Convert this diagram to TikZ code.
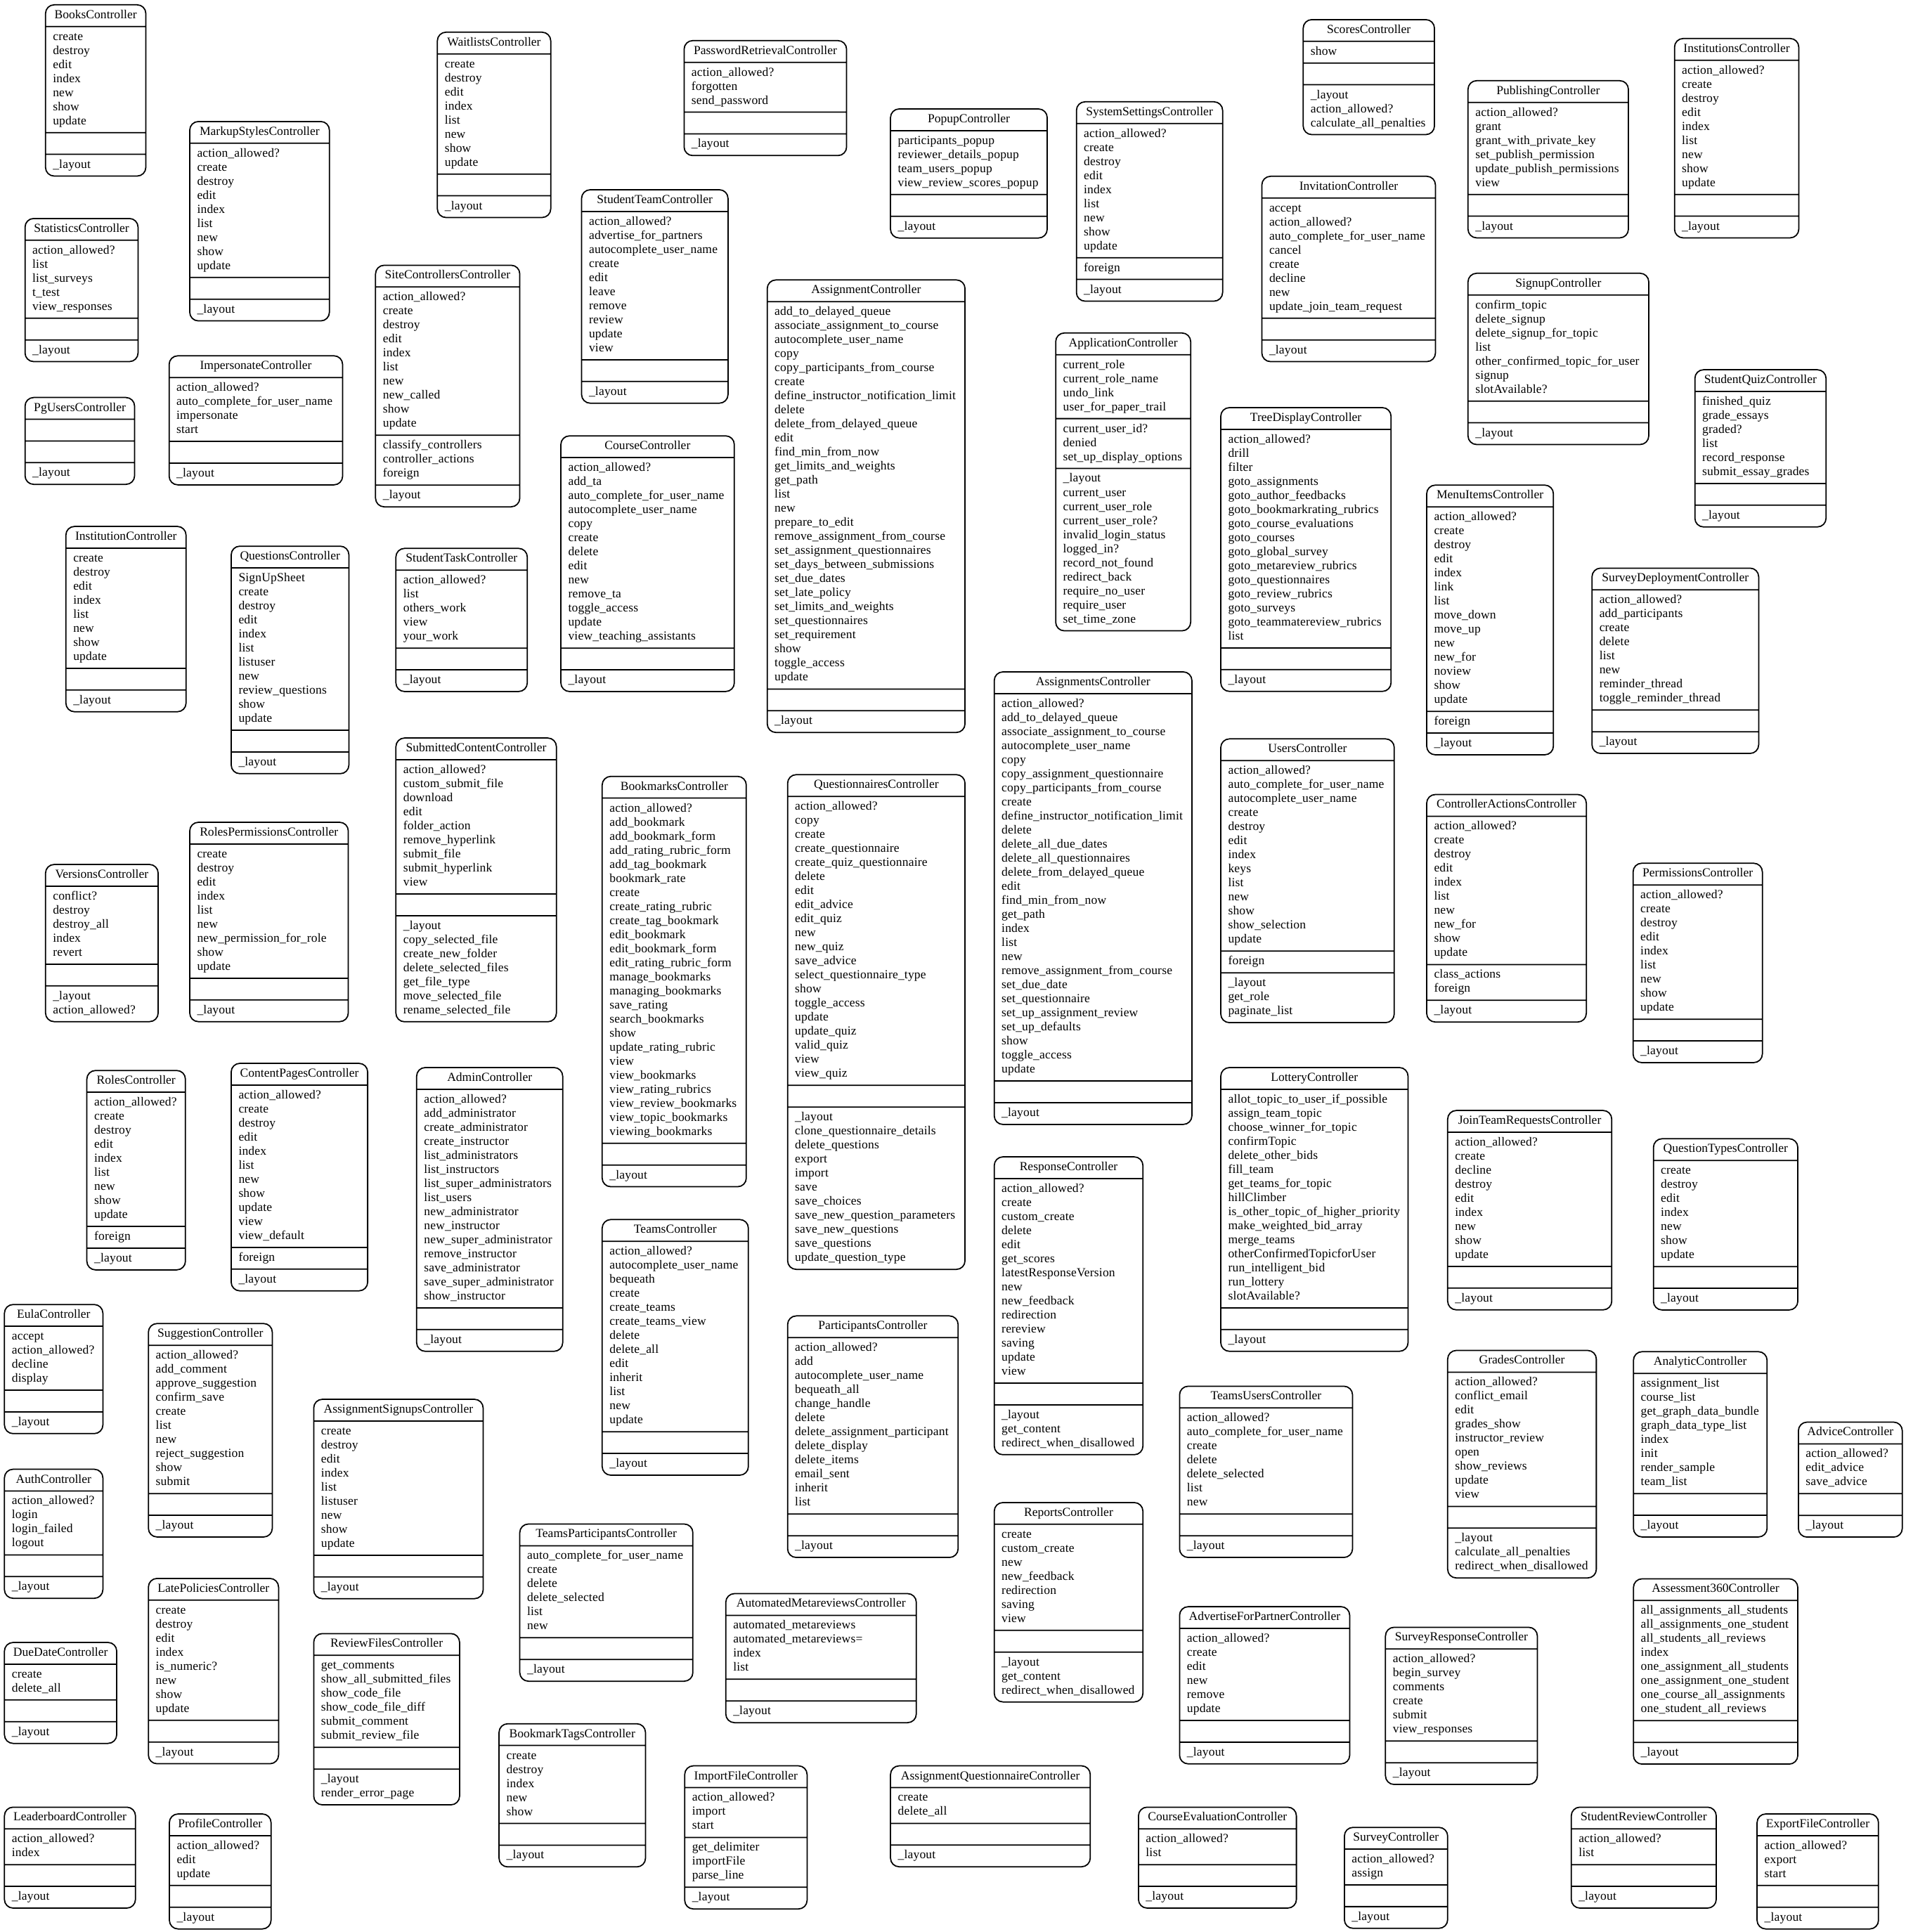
\documentclass[tikz,border=0pt]{standalone}
\usepackage{fontspec}
\setmainfont{Liberation Serif}
\usetikzlibrary{shapes.multipart}
\hyphenpenalty=10000
\exhyphenpenalty=10000
\newcommand{\ctrlfont}{\fontsize{10}{11.4}\selectfont}
\newcommand{\ttl}[1]{\hspace*{\fill}\strut#1\hspace*{\fill}\strut}
\newcommand{\lst}[1]{\addfontfeatures{LetterSpace=1}\strut#1\strut}
\begin{document}
\begin{tikzpicture}[x=1pt, y=-1pt,
    ctrl/.style={rectangle split, rectangle split parts=4, draw, line width=1pt,
      rounded corners=7pt, anchor=north west, inner xsep=6pt, inner ysep=2.6pt,
      font=\ctrlfont, align=left, text width=#1pt}]
    \useasboundingbox (0,0) rectangle (1544.5,1566);
    % first band
    \node[ctrl=69.3] (books) at (36.4,3.4) {\ttl{BooksController}
        \nodepart{two}\lst{create\\destroy\\edit\\index\\new\\show\\update}
        \nodepart{three}\lst{}\nodepart{four}\lst{\_layout}};
    \node[ctrl=101.2] (markupstyles) at (153.3,98) {\ttl{MarkupStylesController}
        \nodepart{two}\lst{action\_allowed?\\create\\destroy\\edit\\index\\list\\new\\show\\update}
        \nodepart{three}\lst{}\nodepart{four}\lst{\_layout}};
    \node[ctrl=79.6] (statistics) at (19.8,176.6) {\ttl{StatisticsController}
        \nodepart{two}\lst{action\_allowed?\\list\\list\_surveys\\t\_test\\view\_responses}
        \nodepart{three}\lst{}\nodepart{four}\lst{\_layout}};
    \node[ctrl=76.8] (pgusers) at (19.8,321.7) {\ttl{PgUsersController}
        \nodepart{two}\lst{}
        \nodepart{three}\lst{}\nodepart{four}\lst{\_layout}};
    \node[ctrl=128.6] (impersonate) at (136.6,287.9) {\ttl{ImpersonateController}
        \nodepart{two}\lst{action\_allowed?\\auto\_complete\_for\_user\_name\\impersonate\\start}
        \nodepart{three}\lst{}\nodepart{four}\lst{\_layout}};
    \node[ctrl=79.9] (waitlists) at (354,25.6) {\ttl{WaitlistsController}
        \nodepart{two}\lst{create\\destroy\\edit\\index\\list\\new\\show\\update}
        \nodepart{three}\lst{}\nodepart{four}\lst{\_layout}};
    \node[ctrl=104.9] (sitecontrollers) at (303.9,214.5) {\ttl{SiteControllersController}
        \nodepart{two}\lst{action\_allowed?\\create\\destroy\\edit\\index\\list\\new\\new\_called\\show\\update}
        \nodepart{three}\lst{classify\_controllers\\controller\_actions\\foreign}\nodepart{four}\lst{\_layout}};
    \node[ctrl=85.4] (institution) at (52.9,426.2) {\ttl{InstitutionController}
        \nodepart{two}\lst{create\\destroy\\edit\\index\\list\\new\\show\\update}
        \nodepart{three}\lst{}\nodepart{four}\lst{\_layout}};
    \node[ctrl=83.4] (questions) at (186.9,442.2) {\ttl{QuestionsController}
        \nodepart{two}\lst{SignUpSheet\\create\\destroy\\edit\\index\\list\\listuser\\new\\review\_questions\\show\\update}
        \nodepart{three}\lst{}\nodepart{four}\lst{\_layout}};
    \node[ctrl=94.5] (studenttask) at (320.4,444) {\ttl{StudentTaskController}
        \nodepart{two}\lst{action\_allowed?\\list\\others\_work\\view\\your\_work}
        \nodepart{three}\lst{}\nodepart{four}\lst{\_layout}};
    \node[ctrl=119.7] (passwordretrieval) at (554,32.4) {\ttl{PasswordRetrievalController}
        \nodepart{two}\lst{action\_allowed?\\forgotten\\send\_password}
        \nodepart{three}\lst{}\nodepart{four}\lst{\_layout}};
    \node[ctrl=106.7] (studentteam) at (470.9,153.3) {\ttl{StudentTeamController}
        \nodepart{two}\lst{action\_allowed?\\advertise\_for\_partners\\autocomplete\_user\_name\\create\\edit\\leave\\remove\\review\\update\\view}
        \nodepart{three}\lst{}\nodepart{four}\lst{\_layout}};
    \node[ctrl=128.6] (course) at (454.1,352.8) {\ttl{CourseController}
        \nodepart{two}\lst{action\_allowed?\\add\_ta\\auto\_complete\_for\_user\_name\\autocomplete\_user\_name\\copy\\create\\delete\\edit\\new\\remove\_ta\\toggle\_access\\update\\view\_teaching\_assistants}
        \nodepart{three}\lst{}\nodepart{four}\lst{\_layout}};
    \node[ctrl=148.3] (assignment) at (621.4,226.4) {\ttl{AssignmentController}
        \nodepart{two}\lst{add\_to\_delayed\_queue\\associate\_assignment\_to\_course\\autocomplete\_user\_name\\copy\\copy\_participants\_from\_course\\create\\define\_instructor\_notification\_limit\\delete\\delete\_from\_delayed\_queue\\edit\\find\_min\_from\_now\\get\_limits\_and\_weights\\get\_path\\list\\new\\prepare\_to\_edit\\remove\_assignment\_from\_course\\set\_assignment\_questionnaires\\set\_days\_between\_submissions\\set\_due\_dates\\set\_late\_policy\\set\_limits\_and\_weights\\set\_questionnaires\\set\_requirement\\show\\toggle\_access\\update}
        \nodepart{three}\lst{}\nodepart{four}\lst{\_layout}};
    \node[ctrl=115] (popup) at (721.3,87.8) {\ttl{PopupController}
        \nodepart{two}\lst{participants\_popup\\reviewer\_details\_popup\\team\_users\_popup\\view\_review\_scores\_popup}
        \nodepart{three}\lst{}\nodepart{four}\lst{\_layout}};
    \node[ctrl=106.5] (systemsettings) at (872,82) {\ttl{SystemSettingsController}
        \nodepart{two}\lst{action\_allowed?\\create\\destroy\\edit\\index\\list\\new\\show\\update}
        \nodepart{three}\lst{foreign}\nodepart{four}\lst{\_layout}};
    \node[ctrl=94.4] (scores) at (1055.8,15.4) {\ttl{ScoresController}
        \nodepart{two}\lst{show}
        \nodepart{three}\lst{}\nodepart{four}\lst{\_layout\\action\_allowed?\\calculate\_all\_penalties}};
    \node[ctrl=128.7] (invitation) at (1022.3,142.4) {\ttl{InvitationController}
        \nodepart{two}\lst{accept\\action\_allowed?\\auto\_complete\_for\_user\_name\\cancel\\create\\decline\\new\\update\_join\_team\_request}
        \nodepart{three}\lst{}\nodepart{four}\lst{\_layout}};
    \node[ctrl=97.4] (application) at (855.2,269.4) {\ttl{ApplicationController}
        \nodepart{two}\lst{current\_role\\current\_role\_name\\undo\_link\\user\_for\_paper\_trail}
        \nodepart{three}\lst{current\_user\_id?\\denied\\set\_up\_display\_options}
        \nodepart{four}\lst{\_layout\\current\_user\\current\_user\_role\\current\_user\_role?\\invalid\_login\_status\\logged\_in?\\record\_not\_found\\redirect\_back\\require\_no\_user\\require\_user\\set\_time\_zone}};
    \node[ctrl=126] (treedisplay) at (989,329.9) {\ttl{TreeDisplayController}
        \nodepart{two}\lst{action\_allowed?\\drill\\filter\\goto\_assignments\\goto\_author\_feedbacks\\goto\_bookmarkrating\_rubrics\\goto\_course\_evaluations\\goto\_courses\\goto\_global\_survey\\goto\_metareview\_rubrics\\goto\_questionnaires\\goto\_review\_rubrics\\goto\_surveys\\goto\_teammatereview\_rubrics\\list}
        \nodepart{three}\lst{}\nodepart{four}\lst{\_layout}};
    \node[ctrl=118] (publishing) at (1189.4,64.9) {\ttl{PublishingController}
        \nodepart{two}\lst{action\_allowed?\\grant\\grant\_with\_private\_key\\set\_publish\_permission\\update\_publish\_permissions\\view}
        \nodepart{three}\lst{}\nodepart{four}\lst{\_layout}};
    \node[ctrl=88.7] (institutions) at (1356.8,30.7) {\ttl{InstitutionsController}
        \nodepart{two}\lst{action\_allowed?\\create\\destroy\\edit\\index\\list\\new\\show\\update}
        \nodepart{three}\lst{}\nodepart{four}\lst{\_layout}};
    \node[ctrl=134.5] (signup) at (1189.4,221) {\ttl{SignupController}
        \nodepart{two}\lst{confirm\_topic\\delete\_signup\\delete\_signup\_for\_topic\\list\\other\_confirmed\_topic\_for\_user\\signup\\slotAvailable?}
        \nodepart{three}\lst{}\nodepart{four}\lst{\_layout}};
    \node[ctrl=94.3] (studentquiz) at (1373.3,299.2) {\ttl{StudentQuizController}
        \nodepart{two}\lst{finished\_quiz\\grade\_essays\\graded?\\list\\record\_response\\submit\_essay\_grades}
        \nodepart{three}\lst{}\nodepart{four}\lst{\_layout}};
    \node[ctrl=90.7] (menuitems) at (1155.9,392.7) {\ttl{MenuItemsController}
        \nodepart{two}\lst{action\_allowed?\\create\\destroy\\edit\\index\\link\\list\\move\_down\\move\_up\\new\\new\_for\\noview\\show\\update}
        \nodepart{three}\lst{foreign}\nodepart{four}\lst{\_layout}};
    \node[ctrl=123.1] (surveydeployment) at (1289.9,460) {\ttl{SurveyDeploymentController}
        \nodepart{two}\lst{action\_allowed?\\add\_participants\\create\\delete\\list\\new\\reminder\_thread\\toggle\_reminder\_thread}
        \nodepart{three}\lst{}\nodepart{four}\lst{\_layout}};
    % middle band
    \node[ctrl=116.5] (rolespermissions) at (153.3,666) {\ttl{RolesPermissionsController}
        \nodepart{two}\lst{create\\destroy\\edit\\index\\list\\new\\new\_permission\_for\_role\\show\\update}
        \nodepart{three}\lst{}\nodepart{four}\lst{\_layout}};
    \node[ctrl=79.3] (versions) at (36.4,700.2) {\ttl{VersionsController}
        \nodepart{two}\lst{conflict?\\destroy\\destroy\_all\\index\\revert}
        \nodepart{three}\lst{}\nodepart{four}\lst{\_layout\\action\_allowed?}};
    \node[ctrl=118.1] (submittedcontent) at (320.4,597.7) {\ttl{SubmittedContentController}
        \nodepart{two}\lst{action\_allowed?\\custom\_submit\_file\\download\\edit\\folder\_action\\remove\_hyperlink\\submit\_file\\submit\_hyperlink\\view}
        \nodepart{three}\lst{}
        \nodepart{four}\lst{\_layout\\copy\_selected\_file\\create\_new\_folder\\delete\_selected\_files\\get\_file\_type\\move\_selected\_file\\rename\_selected\_file}};
    \node[ctrl=67.9] (roles) at (69.9,867.2) {\ttl{RolesController}
        \nodepart{two}\lst{action\_allowed?\\create\\destroy\\edit\\index\\list\\new\\show\\update}
        \nodepart{three}\lst{foreign}\nodepart{four}\lst{\_layout}};
    \node[ctrl=98.6] (contentpages) at (186.9,861.4) {\ttl{ContentPagesController}
        \nodepart{two}\lst{action\_allowed?\\create\\destroy\\edit\\index\\list\\new\\show\\update\\view\\view\_default}
        \nodepart{three}\lst{foreign}\nodepart{four}\lst{\_layout}};
    \node[ctrl=106.4] (admin) at (337.2,864.8) {\ttl{AdminController}
        \nodepart{two}\lst{action\_allowed?\\add\_administrator\\create\_administrator\\create\_instructor\\list\_administrators\\list\_instructors\\list\_super\_administrators\\list\_users\\new\_administrator\\new\_instructor\\new\_super\_administrator\\remove\_instructor\\save\_administrator\\save\_super\_administrator\\show\_instructor}
        \nodepart{three}\lst{}\nodepart{four}\lst{\_layout}};
    \node[ctrl=104.8] (bookmarks) at (487.6,628.8) {\ttl{BookmarksController}
        \nodepart{two}\lst{action\_allowed?\\add\_bookmark\\add\_bookmark\_form\\add\_rating\_rubric\_form\\add\_tag\_bookmark\\bookmark\_rate\\create\\create\_rating\_rubric\\create\_tag\_bookmark\\edit\_bookmark\\edit\_bookmark\_form\\edit\_rating\_rubric\_form\\manage\_bookmarks\\managing\_bookmarks\\save\_rating\\search\_bookmarks\\show\\update\_rating\_rubric\\view\\view\_bookmarks\\view\_rating\_rubrics\\view\_review\_bookmarks\\view\_topic\_bookmarks\\viewing\_bookmarks}
        \nodepart{three}\lst{}\nodepart{four}\lst{\_layout}};
    \node[ctrl=131.8] (questionnaires) at (637.9,627.4) {\ttl{QuestionnairesController}
        \nodepart{two}\lst{action\_allowed?\\copy\\create\\create\_questionnaire\\create\_quiz\_questionnaire\\delete\\edit\\edit\_advice\\edit\_quiz\\new\\new\_quiz\\save\_advice\\select\_questionnaire\_type\\show\\toggle\_access\\update\\update\_quiz\\valid\_quiz\\view\\view\_quiz}
        \nodepart{three}\lst{}
        \nodepart{four}\lst{\_layout\\clone\_questionnaire\_details\\delete\_questions\\export\\import\\save\\save\_choices\\save\_new\_question\_parameters\\save\_new\_questions\\save\_questions\\update\_question\_type}};
    \node[ctrl=106.5] (teams) at (487.6,988) {\ttl{TeamsController}
        \nodepart{two}\lst{action\_allowed?\\autocomplete\_user\_name\\bequeath\\create\\create\_teams\\create\_teams\_view\\delete\\delete\_all\\edit\\inherit\\list\\new\\update}
        \nodepart{three}\lst{}\nodepart{four}\lst{\_layout}};
    \node[ctrl=148.2] (assignments) at (805.4,544.1) {\ttl{AssignmentsController}
        \nodepart{two}\lst{action\_allowed?\\add\_to\_delayed\_queue\\associate\_assignment\_to\_course\\autocomplete\_user\_name\\copy\\copy\_assignment\_questionnaire\\copy\_participants\_from\_course\\create\\define\_instructor\_notification\_limit\\delete\\delete\_all\_due\_dates\\delete\_all\_questionnaires\\delete\_from\_delayed\_queue\\edit\\find\_min\_from\_now\\get\_path\\index\\list\\new\\remove\_assignment\_from\_course\\set\_due\_date\\set\_questionnaire\\set\_up\_assignment\_review\\set\_up\_defaults\\show\\toggle\_access\\update}
        \nodepart{three}\lst{}\nodepart{four}\lst{\_layout}};
    \node[ctrl=128.6] (users) at (989,598.4) {\ttl{UsersController}
        \nodepart{two}\lst{action\_allowed?\\auto\_complete\_for\_user\_name\\autocomplete\_user\_name\\create\\destroy\\edit\\index\\keys\\list\\new\\show\\show\_selection\\update}
        \nodepart{three}\lst{foreign}\nodepart{four}\lst{\_layout\\get\_role\\paginate\_list}};
    \node[ctrl=139.8] (lottery) at (989,864.8) {\ttl{LotteryController}
        \nodepart{two}\lst{allot\_topic\_to\_user\_if\_possible\\assign\_team\_topic\\choose\_winner\_for\_topic\\confirmTopic\\delete\_other\_bids\\fill\_team\\get\_teams\_for\_topic\\hillClimber\\is\_other\_topic\_of\_higher\_priority\\make\_weighted\_bid\_array\\merge\_teams\\otherConfirmedTopicforUser\\run\_intelligent\_bid\\run\_lottery\\slotAvailable?}
        \nodepart{three}\lst{}\nodepart{four}\lst{\_layout}};
    \node[ctrl=108.5] (response) at (805.4,937.2) {\ttl{ResponseController}
        \nodepart{two}\lst{action\_allowed?\\create\\custom\_create\\delete\\edit\\get\_scores\\latestResponseVersion\\new\\new\_feedback\\redirection\\rereview\\saving\\update\\view}
        \nodepart{three}\lst{}\nodepart{four}\lst{\_layout\\get\_content\\redirect\_when\_disallowed}};
    \node[ctrl=117.4] (controlleractions) at (1155.9,643.5) {\ttl{ControllerActionsController}
        \nodepart{two}\lst{action\_allowed?\\create\\destroy\\edit\\index\\list\\new\\new\_for\\show\\update}
        \nodepart{three}\lst{class\_actions\\foreign}\nodepart{four}\lst{\_layout}};
    \node[ctrl=92.8] (permissions) at (1323.2,699.2) {\ttl{PermissionsController}
        \nodepart{two}\lst{action\_allowed?\\create\\destroy\\edit\\index\\list\\new\\show\\update}
        \nodepart{three}\lst{}\nodepart{four}\lst{\_layout}};
    \node[ctrl=121] (jointeamrequests) at (1172.9,899.6) {\ttl{JoinTeamRequestsController}
        \nodepart{two}\lst{action\_allowed?\\create\\decline\\destroy\\edit\\index\\new\\show\\update}
        \nodepart{three}\lst{}\nodepart{four}\lst{\_layout}};
    \node[ctrl=105] (questiontypes) at (1339.7,922.5) {\ttl{QuestionTypesController}
        \nodepart{two}\lst{create\\destroy\\edit\\index\\new\\show\\update}
        \nodepart{three}\lst{}\nodepart{four}\lst{\_layout}};
    % bottom band
    \node[ctrl=67.8] (eula) at (3.1,1056.9) {\ttl{EulaController}
        \nodepart{two}\lst{accept\\action\_allowed?\\decline\\display}
        \nodepart{three}\lst{}\nodepart{four}\lst{\_layout}};
    \node[ctrl=88.4] (suggestion) at (119.8,1072.3) {\ttl{SuggestionController}
        \nodepart{two}\lst{action\_allowed?\\add\_comment\\approve\_suggestion\\confirm\_save\\create\\list\\new\\reject\_suggestion\\show\\submit}
        \nodepart{three}\lst{}\nodepart{four}\lst{\_layout}};
    \node[ctrl=125.3] (assignmentsignups) at (253.8,1133.7) {\ttl{AssignmentSignupsController}
        \nodepart{two}\lst{create\\destroy\\edit\\index\\list\\listuser\\new\\show\\update}
        \nodepart{three}\lst{}\nodepart{four}\lst{\_layout}};
    \node[ctrl=67.8] (auth) at (3.1,1190.4) {\ttl{AuthController}
        \nodepart{two}\lst{action\_allowed?\\login\\login\_failed\\logout}
        \nodepart{three}\lst{}\nodepart{four}\lst{\_layout}};
    \node[ctrl=93.5] (latepolicies) at (119.8,1278.9) {\ttl{LatePoliciesController}
        \nodepart{two}\lst{create\\destroy\\edit\\index\\is\_numeric?\\new\\show\\update}
        \nodepart{three}\lst{}\nodepart{four}\lst{\_layout}};
    \node[ctrl=106.2] (reviewfiles) at (253.8,1323.6) {\ttl{ReviewFilesController}
        \nodepart{two}\lst{get\_comments\\show\_all\_submitted\_files\\show\_code\_file\\show\_code\_file\_diff\\submit\_comment\\submit\_review\_file}
        \nodepart{three}\lst{}\nodepart{four}\lst{\_layout\\render\_error\_page}};
    \node[ctrl=79] (duedate) at (3.1,1330.8) {\ttl{DueDateController}
        \nodepart{two}\lst{create\\delete\_all}
        \nodepart{three}\lst{}\nodepart{four}\lst{\_layout}};
    \node[ctrl=94.2] (leaderboard) at (3.1,1464.3) {\ttl{LeaderboardController}
        \nodepart{two}\lst{action\_allowed?\\index}
        \nodepart{three}\lst{}\nodepart{four}\lst{\_layout}};
    \node[ctrl=70.4] (profile) at (136.8,1469.8) {\ttl{ProfileController}
        \nodepart{two}\lst{action\_allowed?\\edit\\update}
        \nodepart{three}\lst{}\nodepart{four}\lst{\_layout}};
    \node[ctrl=126.2] (participants) at (637.9,1066.1) {\ttl{ParticipantsController}
        \nodepart{two}\lst{action\_allowed?\\add\\autocomplete\_user\_name\\bequeath\_all\\change\_handle\\delete\\delete\_assignment\_participant\\delete\_display\\delete\_items\\email\_sent\\inherit\\list}
        \nodepart{three}\lst{}\nodepart{four}\lst{\_layout}};
    \node[ctrl=128.3] (teamsparticipants) at (420.8,1234.8) {\ttl{TeamsParticipantsController}
        \nodepart{two}\lst{auto\_complete\_for\_user\_name\\create\\delete\\delete\_selected\\list\\new}
        \nodepart{three}\lst{}\nodepart{four}\lst{\_layout}};
    \node[ctrl=142.4] (automatedmetareviews) at (587.8,1291.2) {\ttl{AutomatedMetareviewsController}
        \nodepart{two}\lst{automated\_metareviews\\automated\_metareviews=\\index\\list}
        \nodepart{three}\lst{}\nodepart{four}\lst{\_layout}};
    \node[ctrl=106.7] (bookmarktags) at (404,1396.7) {\ttl{BookmarkTagsController}
        \nodepart{two}\lst{create\\destroy\\index\\new\\show}
        \nodepart{three}\lst{}\nodepart{four}\lst{\_layout}};
    \node[ctrl=87.2] (importfile) at (554.5,1430.8) {\ttl{ImportFileController}
        \nodepart{two}\lst{action\_allowed?\\import\\start}
        \nodepart{three}\lst{get\_delimiter\\importFile\\parse\_line}\nodepart{four}\lst{\_layout}};
    \node[ctrl=149.9] (assignmentquestionnaire) at (721.3,1430.8) {\ttl{AssignmentQuestionnaireController}
        \nodepart{two}\lst{create\\delete\_all}
        \nodepart{three}\lst{}\nodepart{four}\lst{\_layout}};
    \node[ctrl=108.5] (reports) at (805.4,1217.4) {\ttl{ReportsController}
        \nodepart{two}\lst{create\\custom\_create\\new\\new\_feedback\\redirection\\saving\\view}
        \nodepart{three}\lst{}\nodepart{four}\lst{\_layout\\get\_content\\redirect\_when\_disallowed}};
    \node[ctrl=128.2] (teamsusers) at (955.6,1123.1) {\ttl{TeamsUsersController}
        \nodepart{two}\lst{action\_allowed?\\auto\_complete\_for\_user\_name\\create\\delete\\delete\_selected\\list\\new}
        \nodepart{three}\lst{}\nodepart{four}\lst{\_layout}};
    \node[ctrl=125.9] (advertiseforpartner) at (955.6,1301.8) {\ttl{AdvertiseForPartnerController}
        \nodepart{two}\lst{action\_allowed?\\create\\edit\\new\\remove\\update}
        \nodepart{three}\lst{}\nodepart{four}\lst{\_layout}};
    \node[ctrl=111.1] (surveyresponse) at (1122.5,1318.5) {\ttl{SurveyResponseController}
        \nodepart{two}\lst{action\_allowed?\\begin\_survey\\comments\\create\\submit\\view\_responses}
        \nodepart{three}\lst{}\nodepart{four}\lst{\_layout}};
    \node[ctrl=116] (courseevaluation) at (922.3,1464.3) {\ttl{CourseEvaluationController}
        \nodepart{two}\lst{action\_allowed?\\list}
        \nodepart{three}\lst{}\nodepart{four}\lst{\_layout}};
    \node[ctrl=71.7] (survey) at (1089.2,1480.7) {\ttl{SurveyController}
        \nodepart{two}\lst{action\_allowed?\\assign}
        \nodepart{three}\lst{}\nodepart{four}\lst{\_layout}};
    \node[ctrl=108.5] (grades) at (1172.9,1094.1) {\ttl{GradesController}
        \nodepart{two}\lst{action\_allowed?\\conflict\_email\\edit\\grades\_show\\instructor\_review\\open\\show\_reviews\\update\\view}
        \nodepart{three}\lst{}\nodepart{four}\lst{\_layout\\calculate\_all\_penalties\\redirect\_when\_disallowed}};
    \node[ctrl=96.3] (analytic) at (1323.5,1095.1) {\ttl{AnalyticController}
        \nodepart{two}\lst{assignment\_list\\course\_list\\get\_graph\_data\_bundle\\graph\_data\_type\_list\\index\\init\\render\_sample\\team\_list}
        \nodepart{three}\lst{}\nodepart{four}\lst{\_layout}};
    \node[ctrl=72.2] (advice) at (1457.2,1152.2) {\ttl{AdviceController}
        \nodepart{two}\lst{action\_allowed?\\edit\_advice\\save\_advice}
        \nodepart{three}\lst{}\nodepart{four}\lst{\_layout}};
    \node[ctrl=121.2] (assessment360) at (1323.5,1279.2) {\ttl{Assessment360Controller}
        \nodepart{two}\lst{all\_assignments\_all\_students\\all\_assignments\_one\_student\\all\_students\_all\_reviews\\index\\one\_assignment\_all\_students\\one\_assignment\_one\_student\\one\_course\_all\_assignments\\one\_student\_all\_reviews}
        \nodepart{three}\lst{}\nodepart{four}\lst{\_layout}};
    \node[ctrl=105.5] (studentreview) at (1273.1,1464.3) {\ttl{StudentReviewController}
        \nodepart{two}\lst{action\_allowed?\\list}
        \nodepart{three}\lst{}\nodepart{four}\lst{\_layout}};
    \node[ctrl=86.4] (exportfile) at (1423.7,1469.8) {\ttl{ExportFileController}
        \nodepart{two}\lst{action\_allowed?\\export\\start}
        \nodepart{three}\lst{}\nodepart{four}\lst{\_layout}};
\end{tikzpicture}
\end{document}
